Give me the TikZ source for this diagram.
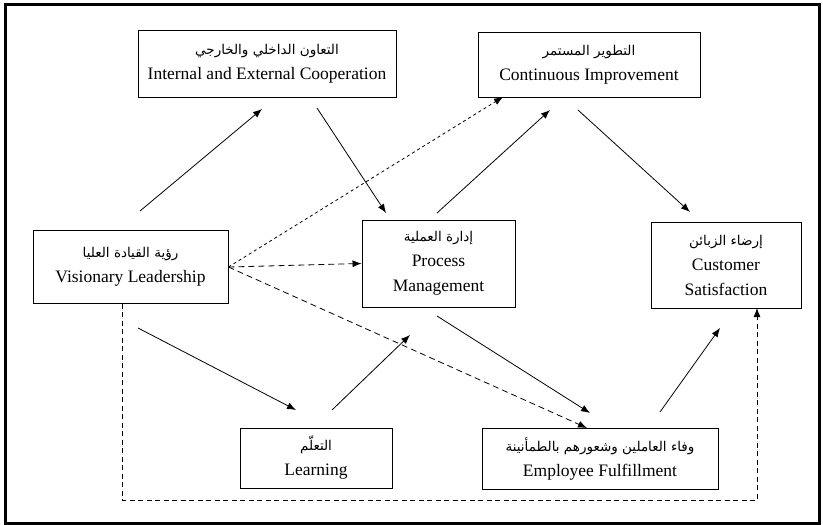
\documentclass[tikz,border=0pt]{standalone}
\usepackage{fontspec}
\setmainfont{Liberation Serif}
\newfontfamily\arabicfont[Script=Arabic]{DejaVu Sans}
\TeXXeTstate=1
\usetikzlibrary{arrows.meta}
\newcommand{\artext}[1]{{\arabicfont\fontsize{13.5}{25}\selectfont\beginR #1\endR}}
\begin{document}
\begin{tikzpicture}[x=1pt,y=-1pt,
    box/.style={draw,line width=.9pt,align=center,inner sep=2pt,
      font=\fontsize{17.5}{25}\selectfont},
    arr/.style={line width=.8pt,-{Latex[length=9pt,width=7pt]}},
    dasharr/.style={arr,dash pattern=on 6pt off 4pt},
    dotarr/.style={arr,dash pattern=on 3pt off 3pt}]

  \useasboundingbox (0,0) rectangle (823,525);
  \draw[line width=3pt] (5,4.5) rectangle (819,523.5);

  % boxes
  \node[box,minimum width=258pt,minimum height=67pt] (iec) at (267,63.5)
    {\artext{التعاون الداخلي والخارجي}\\Internal and External Cooperation};
  \node[box,minimum width=222pt,minimum height=65pt] (ci) at (589,64.5)
    {\artext{التطوير المستمر}\\Continuous Improvement};
  \node[box,minimum width=195pt,minimum height=73pt] (vl) at (130.5,267)
    {\artext{رؤية القيادة العليا}\\Visionary Leadership};
  \node[box,minimum width=153pt,minimum height=87pt] (pm) at (438.5,263.5)
    {\artext{إدارة العملية}\\Process\\Management};
  \node[box,minimum width=150pt,minimum height=86pt] (cs) at (726,265)
    {\artext{إرضاء الزبائن}\\Customer\\Satisfaction};
  \node[box,minimum width=152pt,minimum height=60pt] (lrn) at (316,458)
    {\artext{التعلّم}\\Learning};
  \node[box,minimum width=236pt,minimum height=61pt] (ef) at (600,458.5)
    {\artext{وفاء العاملين وشعورهم بالطمأنينة}\\Employee Fulfillment};

  % free ends of the solid arrows
  \coordinate (a1) at (140,211); \coordinate (a2) at (262,109);
  \coordinate (b1) at (317,108); \coordinate (b2) at (386,213);
  \coordinate (c1) at (437,213); \coordinate (c2) at (550,110);
  \coordinate (d1) at (578,110); \coordinate (d2) at (690,212);
  \coordinate (e1) at (138,328); \coordinate (e2) at (296,410);
  \coordinate (f1) at (332,410); \coordinate (f2) at (410,335);
  \coordinate (g1) at (437,316); \coordinate (g2) at (590,413);
  \coordinate (h1) at (660,412); \coordinate (h2) at (720,328);

  \draw[arr] (a1) -- (a2);
  \draw[arr] (b1) -- (b2);
  \draw[arr] (c1) -- (c2);
  \draw[arr] (d1) -- (d2);
  \draw[arr] (e1) -- (e2);
  \draw[arr] (f1) -- (f2);
  \draw[arr] (g1) -- (g2);
  \draw[arr] (h1) -- (h2);

  % dashed links from leadership
  \coordinate (cib) at (503,97);
  \coordinate (eft) at (587,428);
  \draw[dotarr] (vl.east) -- (cib);
  \draw[dasharr] (vl.east) -- (pm.west);
  \draw[dasharr] (vl.east) -- (eft);

  % loop along the bottom
  \coordinate (p1) at (122,303.5);
  \coordinate (p2) at (122,500);
  \coordinate (p3) at (757,500);
  \coordinate (p4) at (757,308);
  \draw[arr,dash pattern=on 5pt off 3.5pt] (p1) -- (p2) -- (p3) -- (p4);

\end{tikzpicture}
\end{document}
